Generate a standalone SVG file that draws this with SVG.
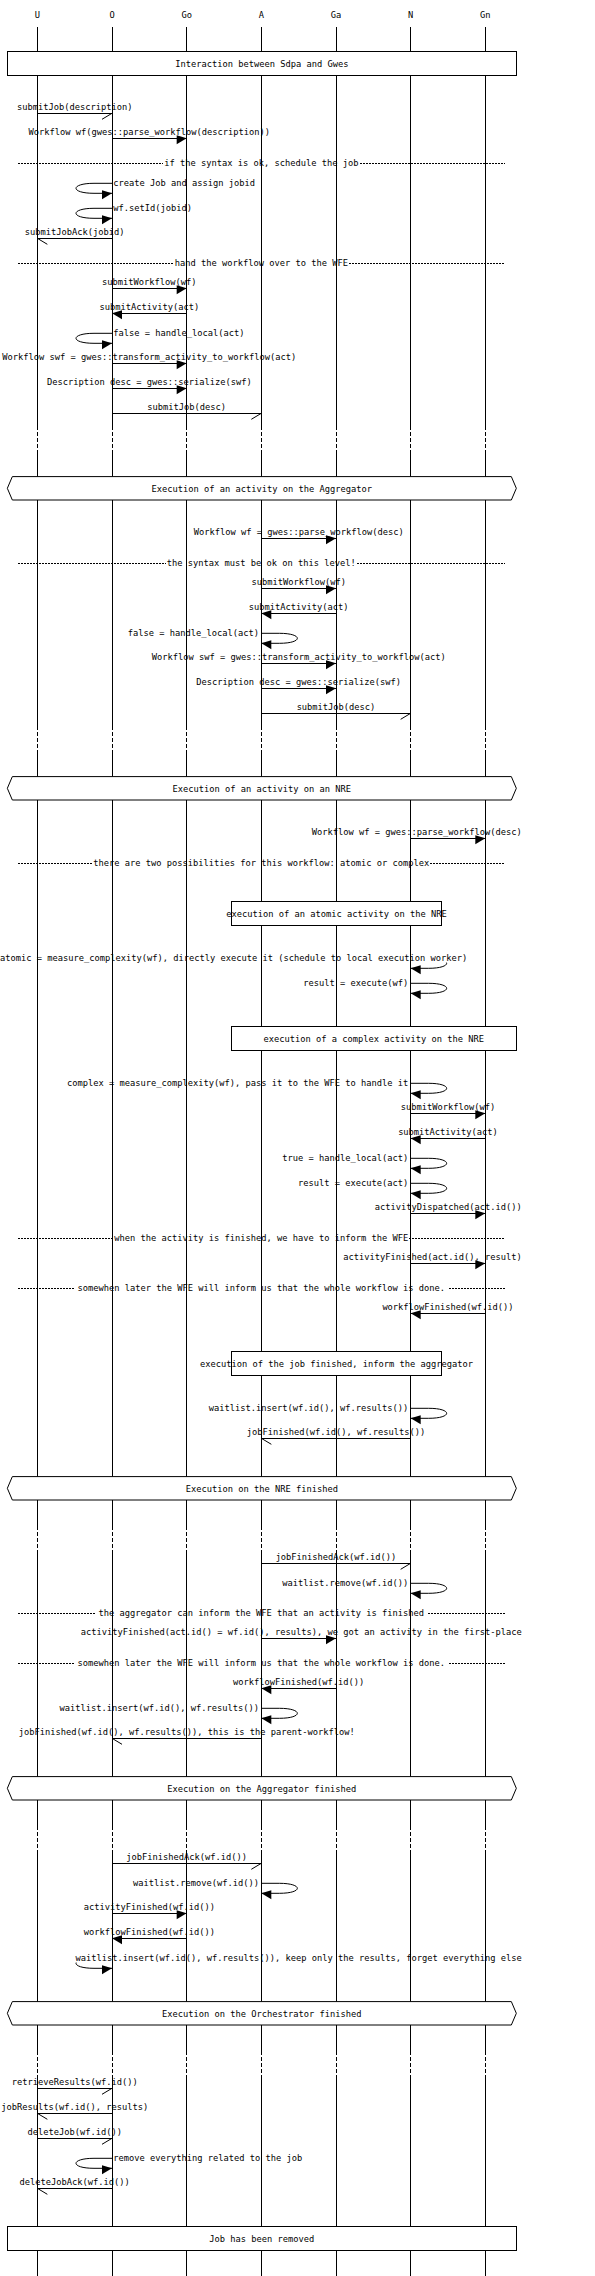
<svg xmlns="http://www.w3.org/2000/svg" width="595" height="2276" viewBox="0 0 595 2276">
<style>
.t{font-family:"DejaVu Sans Mono","Liberation Mono",monospace;font-size:8.72px;fill:#000}
.m{text-anchor:middle}
.e{text-anchor:end}
.ln{stroke:#000;stroke-width:1;fill:none}
line.ln{shape-rendering:crispEdges}
.ll{stroke:#000;stroke-width:1;fill:none;shape-rendering:crispEdges}
.lld{stroke:#000;stroke-width:1;fill:none;stroke-dasharray:4,2;shape-rendering:crispEdges}
.sep{stroke:#000;stroke-width:1;fill:none;stroke-dasharray:2,1;shape-rendering:crispEdges}
.box{fill:#fff;stroke:#000;stroke-width:1}
rect.box{shape-rendering:crispEdges}
.bg{fill:#fff}
.f{marker-end:url(#fr)}
.fl{marker-end:url(#fl)}
.a{marker-end:url(#ar)}
.al{marker-end:url(#al)}
</style>
<defs>
<marker id="fr" markerUnits="userSpaceOnUse" markerWidth="12" markerHeight="12" refX="0" refY="0" orient="0" style="overflow:visible"><path d="M0,0 L-10,-3 L-10,6 Z" fill="#000"/></marker>
<marker id="fl" markerUnits="userSpaceOnUse" markerWidth="12" markerHeight="12" refX="0" refY="0" orient="0" style="overflow:visible"><path d="M0,0 L10,-3 L10,6 Z" fill="#000"/></marker>
<marker id="ar" markerUnits="userSpaceOnUse" markerWidth="12" markerHeight="12" refX="0" refY="0" orient="0" style="overflow:visible"><path d="M0,0 L-10,6" stroke="#000" stroke-width="1" fill="none"/></marker>
<marker id="al" markerUnits="userSpaceOnUse" markerWidth="12" markerHeight="12" refX="0" refY="0" orient="0" style="overflow:visible"><path d="M0,0 L10,6" stroke="#000" stroke-width="1" fill="none"/></marker>
</defs>
<rect x="0" y="0" width="595" height="2276" fill="#fff"/>

<g id="separators">
<path class="sep" d="M18.33,163.3 H163.2 M359.5,163.3 H504.67"/>
<text class="t m" x="261.33" y="166.3">if the syntax is ok, schedule the job</text>
<path class="sep" d="M18.33,263.3 H173.7 M349,263.3 H504.67"/>
<text class="t m" x="261.33" y="266.3">hand the workflow over to the WFE</text>
<path class="sep" d="M18.33,563.3 H165.8 M356.8,563.3 H504.67"/>
<text class="t m" x="261.33" y="566.3">the syntax must be ok on this level!</text>
<path class="sep" d="M18.33,863.3 H92.3 M430.3,863.3 H504.67"/>
<text class="t m" x="261.33" y="866.3">there are two possibilities for this workflow: atomic or complex</text>
<path class="sep" d="M18.33,1238.3 H113.3 M409.3,1238.3 H504.67"/>
<text class="t m" x="261.33" y="1241.3">when the activity is finished, we have to inform the WFE</text>
<path class="sep" d="M18.33,1288.3 H74 M448.7,1288.3 H504.67"/>
<text class="t m" x="261.33" y="1291.3">somewhen later the WFE will inform us that the whole workflow is done.</text>
<path class="sep" d="M18.33,1613.3 H95 M427.7,1613.3 H504.67"/>
<text class="t m" x="261.33" y="1616.3">the aggregator can inform the WFE that an activity is finished</text>
<path class="sep" d="M18.33,1663.3 H74 M448.7,1663.3 H504.67"/>
<text class="t m" x="261.33" y="1666.3">somewhen later the WFE will inform us that the whole workflow is done.</text>
</g>

<g id="connectors">
<line class="ln a" x1="37.33" y1="113.3" x2="112" y2="113.3"/>
<text class="t m" x="74.67" y="109.8">submitJob(description)</text>
<line class="ln f" x1="112" y1="138.3" x2="186.67" y2="138.3"/>
<text class="t m" x="149.33" y="134.8">Workflow wf(gwes::parse_workflow(description))</text>
<path class="ln f" d="M112,183.3 H94 C70,183.3 70,193.3 94,193.3 H112"/>
<text class="t" x="113.3" y="185.6">create Job and assign jobid</text>
<path class="ln f" d="M112,208.3 H94 C70,208.3 70,218.3 94,218.3 H112"/>
<text class="t" x="113.3" y="210.6">wf.setId(jobid)</text>
<line class="ln al" x1="112" y1="238.3" x2="37.33" y2="238.3"/>
<text class="t m" x="74.67" y="234.8">submitJobAck(jobid)</text>
<line class="ln f" x1="112" y1="288.3" x2="186.67" y2="288.3"/>
<text class="t m" x="149.33" y="284.8">submitWorkflow(wf)</text>
<line class="ln fl" x1="186.67" y1="313.3" x2="112" y2="313.3"/>
<text class="t m" x="149.33" y="309.8">submitActivity(act)</text>
<path class="ln f" d="M112,333.3 H94 C70,333.3 70,343.3 94,343.3 H112"/>
<text class="t" x="113.3" y="335.6">false = handle_local(act)</text>
<line class="ln f" x1="112" y1="363.3" x2="186.67" y2="363.3"/>
<text class="t m" x="149.33" y="359.8">Workflow swf = gwes::transform_activity_to_workflow(act)</text>
<line class="ln f" x1="112" y1="388.3" x2="186.67" y2="388.3"/>
<text class="t m" x="149.33" y="384.8">Description desc = gwes::serialize(swf)</text>
<line class="ln a" x1="112" y1="413.3" x2="261.33" y2="413.3"/>
<text class="t m" x="186.67" y="409.8">submitJob(desc)</text>

<line class="ln f" x1="261.33" y1="538.3" x2="336" y2="538.3"/>
<text class="t m" x="298.67" y="534.8">Workflow wf = gwes::parse_workflow(desc)</text>
<line class="ln f" x1="261.33" y1="588.3" x2="336" y2="588.3"/>
<text class="t m" x="298.67" y="584.8">submitWorkflow(wf)</text>
<line class="ln fl" x1="336" y1="613.3" x2="261.33" y2="613.3"/>
<text class="t m" x="298.67" y="609.8">submitActivity(act)</text>
<path class="ln fl" d="M261.33,633.3 H279.33 C303.33,633.3 303.33,643.3 279.33,643.3 H261.33"/>
<text class="t e" x="259" y="635.6">false = handle_local(act)</text>
<line class="ln f" x1="261.33" y1="663.3" x2="336" y2="663.3"/>
<text class="t m" x="298.67" y="659.8">Workflow swf = gwes::transform_activity_to_workflow(act)</text>
<line class="ln f" x1="261.33" y1="688.3" x2="336" y2="688.3"/>
<text class="t m" x="298.67" y="684.8">Description desc = gwes::serialize(swf)</text>
<line class="ln a" x1="261.33" y1="713.3" x2="410.67" y2="713.3"/>
<text class="t m" x="336" y="709.8">submitJob(desc)</text>

<line class="ln f" x1="410.67" y1="838.3" x2="485.33" y2="838.3"/>
<text class="t e" x="521.7" y="834.8">Workflow wf = gwes::parse_workflow(desc)</text>
<path class="ln fl" d="M410.67,958.3 H428.67 C452.67,958.3 452.67,968.3 428.67,968.3 H410.67"/>
<rect class="bg" x="0" y="953" width="468" height="9.5"/>
<text class="t" x="0" y="960.6">atomic = measure_complexity(wf), directly execute it (schedule to local execution worker)</text>
<path class="ln fl" d="M410.67,983.3 H428.67 C452.67,983.3 452.67,993.3 428.67,993.3 H410.67"/>
<text class="t e" x="408.3" y="985.6">result = execute(wf)</text>
<path class="ln fl" d="M410.67,1083.3 H428.67 C452.67,1083.3 452.67,1093.3 428.67,1093.3 H410.67"/>
<text class="t e" x="408.3" y="1085.6">complex = measure_complexity(wf), pass it to the WFE to handle it</text>
<line class="ln f" x1="410.67" y1="1113.3" x2="485.33" y2="1113.3"/>
<text class="t m" x="448" y="1109.8">submitWorkflow(wf)</text>
<line class="ln fl" x1="485.33" y1="1138.3" x2="410.67" y2="1138.3"/>
<text class="t m" x="448" y="1134.8">submitActivity(act)</text>
<path class="ln fl" d="M410.67,1158.3 H428.67 C452.67,1158.3 452.67,1168.3 428.67,1168.3 H410.67"/>
<text class="t e" x="408.3" y="1160.6">true = handle_local(act)</text>
<path class="ln fl" d="M410.67,1183.3 H428.67 C452.67,1183.3 452.67,1193.3 428.67,1193.3 H410.67"/>
<text class="t e" x="408.3" y="1185.6">result = execute(act)</text>
<line class="ln f" x1="410.67" y1="1213.3" x2="485.33" y2="1213.3"/>
<text class="t e" x="521.7" y="1209.8">activityDispatched(act.id())</text>
<line class="ln f" x1="410.67" y1="1263.3" x2="485.33" y2="1263.3"/>
<text class="t e" x="521.7" y="1259.8">activityFinished(act.id(), result)</text>
<line class="ln fl" x1="485.33" y1="1313.3" x2="410.67" y2="1313.3"/>
<text class="t m" x="448" y="1309.8">workflowFinished(wf.id())</text>
<path class="ln fl" d="M410.67,1408.3 H428.67 C452.67,1408.3 452.67,1418.3 428.67,1418.3 H410.67"/>
<text class="t e" x="408.3" y="1410.6">waitlist.insert(wf.id(), wf.results())</text>
<line class="ln al" x1="410.67" y1="1438.3" x2="261.33" y2="1438.3"/>
<text class="t m" x="336" y="1434.8">jobFinished(wf.id(), wf.results())</text>

<line class="ln a" x1="261.33" y1="1563.3" x2="410.67" y2="1563.3"/>
<text class="t m" x="336" y="1559.8">jobFinishedAck(wf.id())</text>
<path class="ln fl" d="M410.67,1583.3 H428.67 C452.67,1583.3 452.67,1593.3 428.67,1593.3 H410.67"/>
<text class="t e" x="408.3" y="1585.6">waitlist.remove(wf.id())</text>
<line class="ln f" x1="261.33" y1="1638.3" x2="336" y2="1638.3"/>
<text class="t e" x="521.7" y="1634.8">activityFinished(act.id() = wf.id(), results), we got an activity in the first-place</text>
<line class="ln fl" x1="336" y1="1688.3" x2="261.33" y2="1688.3"/>
<text class="t m" x="298.67" y="1684.8">workflowFinished(wf.id())</text>
<path class="ln fl" d="M261.33,1708.3 H279.33 C303.33,1708.3 303.33,1718.3 279.33,1718.3 H261.33"/>
<text class="t e" x="259" y="1710.6">waitlist.insert(wf.id(), wf.results())</text>
<line class="ln al" x1="261.33" y1="1738.3" x2="112" y2="1738.3"/>
<text class="t m" x="186.67" y="1734.8">jobFinished(wf.id(), wf.results()), this is the parent-workflow!</text>

<line class="ln a" x1="112" y1="1863.3" x2="261.33" y2="1863.3"/>
<text class="t m" x="186.67" y="1859.8">jobFinishedAck(wf.id())</text>
<path class="ln fl" d="M261.33,1883.3 H279.33 C303.33,1883.3 303.33,1893.3 279.33,1893.3 H261.33"/>
<text class="t e" x="259" y="1885.6">waitlist.remove(wf.id())</text>
<line class="ln f" x1="112" y1="1913.3" x2="186.67" y2="1913.3"/>
<text class="t m" x="149.33" y="1909.8">activityFinished(wf.id())</text>
<line class="ln fl" x1="186.67" y1="1938.3" x2="112" y2="1938.3"/>
<text class="t m" x="149.33" y="1934.8">workflowFinished(wf.id())</text>
<path class="ln f" d="M112,1958.3 H94 C70,1958.3 70,1968.3 94,1968.3 H112"/>
<rect class="bg" x="75" y="1953" width="447" height="9.5"/>
<text class="t e" x="521.7" y="1960.6">waitlist.insert(wf.id(), wf.results()), keep only the results, forget everything else</text>

<line class="ln a" x1="37.33" y1="2088.3" x2="112" y2="2088.3"/>
<text class="t m" x="74.67" y="2084.8">retrieveResults(wf.id())</text>
<line class="ln al" x1="112" y1="2113.3" x2="37.33" y2="2113.3"/>
<text class="t m" x="74.67" y="2109.8">jobResults(wf.id(), results)</text>
<line class="ln a" x1="37.33" y1="2138.3" x2="112" y2="2138.3"/>
<text class="t m" x="74.67" y="2134.8">deleteJob(wf.id())</text>
<path class="ln f" d="M112,2158.3 H94 C70,2158.3 70,2168.3 94,2168.3 H112"/>
<text class="t" x="113.3" y="2160.6">remove everything related to the job</text>
<line class="ln al" x1="112" y1="2188.3" x2="37.33" y2="2188.3"/>
<text class="t m" x="74.67" y="2184.8">deleteJobAck(wf.id())</text>
</g>

<g id="U">
<text class="t m" x="37.33" y="18.3">U</text>
<path class="ll" d="M37.33,26.7 V425.8 M37.33,450.8 V725.8 M37.33,750.8 V1525.8 M37.33,1550.8 V1825.8 M37.33,1850.8 V2050.8 M37.33,2075.8 V2276"/>
<path class="lld" d="M37.33,425.8 V450.8 M37.33,725.8 V750.8 M37.33,1525.8 V1550.8 M37.33,1825.8 V1850.8 M37.33,2050.8 V2075.8"/>
</g>
<g id="O">
<text class="t m" x="112" y="18.3">O</text>
<path class="ll" d="M112,26.7 V425.8 M112,450.8 V725.8 M112,750.8 V1525.8 M112,1550.8 V1825.8 M112,1850.8 V2050.8 M112,2075.8 V2276"/>
<path class="lld" d="M112,425.8 V450.8 M112,725.8 V750.8 M112,1525.8 V1550.8 M112,1825.8 V1850.8 M112,2050.8 V2075.8"/>
</g>
<g id="Go">
<text class="t m" x="186.67" y="18.3">Go</text>
<path class="ll" d="M186.67,26.7 V425.8 M186.67,450.8 V725.8 M186.67,750.8 V1525.8 M186.67,1550.8 V1825.8 M186.67,1850.8 V2050.8 M186.67,2075.8 V2276"/>
<path class="lld" d="M186.67,425.8 V450.8 M186.67,725.8 V750.8 M186.67,1525.8 V1550.8 M186.67,1825.8 V1850.8 M186.67,2050.8 V2075.8"/>
</g>
<g id="A">
<text class="t m" x="261.33" y="18.3">A</text>
<path class="ll" d="M261.33,26.7 V425.8 M261.33,450.8 V725.8 M261.33,750.8 V1525.8 M261.33,1550.8 V1825.8 M261.33,1850.8 V2050.8 M261.33,2075.8 V2276"/>
<path class="lld" d="M261.33,425.8 V450.8 M261.33,725.8 V750.8 M261.33,1525.8 V1550.8 M261.33,1825.8 V1850.8 M261.33,2050.8 V2075.8"/>
</g>
<g id="Ga">
<text class="t m" x="336" y="18.3">Ga</text>
<path class="ll" d="M336,26.7 V425.8 M336,450.8 V725.8 M336,750.8 V1525.8 M336,1550.8 V1825.8 M336,1850.8 V2050.8 M336,2075.8 V2276"/>
<path class="lld" d="M336,425.8 V450.8 M336,725.8 V750.8 M336,1525.8 V1550.8 M336,1825.8 V1850.8 M336,2050.8 V2075.8"/>
</g>
<g id="N">
<text class="t m" x="410.67" y="18.3">N</text>
<path class="ll" d="M410.67,26.7 V425.8 M410.67,450.8 V725.8 M410.67,750.8 V1525.8 M410.67,1550.8 V1825.8 M410.67,1850.8 V2050.8 M410.67,2075.8 V2276"/>
<path class="lld" d="M410.67,425.8 V450.8 M410.67,725.8 V750.8 M410.67,1525.8 V1550.8 M410.67,1825.8 V1850.8 M410.67,2050.8 V2075.8"/>
</g>
<g id="Gn">
<text class="t m" x="485.33" y="18.3">Gn</text>
<path class="ll" d="M485.33,26.7 V425.8 M485.33,450.8 V725.8 M485.33,750.8 V1525.8 M485.33,1550.8 V1825.8 M485.33,1850.8 V2050.8 M485.33,2075.8 V2276"/>
<path class="lld" d="M485.33,425.8 V450.8 M485.33,725.8 V750.8 M485.33,1525.8 V1550.8 M485.33,1825.8 V1850.8 M485.33,2050.8 V2075.8"/>
</g>

<g id="box-interaction">
<rect class="box" x="7.33" y="51.6" width="509" height="23.4"/>
<text class="t m" x="261.83" y="66.6">Interaction between Sdpa and Gwes</text>
</g>
<g id="box-exec-aggregator">
<polygon class="box" points="7.33,488.3 12.33,476.6 511.33,476.6 516.33,488.3 511.33,500 12.33,500"/>
<text class="t m" x="261.83" y="491.6">Execution of an activity on the Aggregator</text>
</g>
<g id="box-exec-nre">
<polygon class="box" points="7.33,788.3 12.33,776.6 511.33,776.6 516.33,788.3 511.33,800 12.33,800"/>
<text class="t m" x="261.83" y="791.6">Execution of an activity on an NRE</text>
</g>
<g id="box-atomic">
<rect class="box" x="231.3" y="901.6" width="210.4" height="23.4"/>
<text class="t m" x="336.5" y="916.6">execution of an atomic activity on the NRE</text>
</g>
<g id="box-complex">
<rect class="box" x="231.3" y="1026.6" width="285" height="23.4"/>
<text class="t m" x="373.8" y="1041.6">execution of a complex activity on the NRE</text>
</g>
<g id="box-job-finished">
<rect class="box" x="231.3" y="1351.6" width="210.4" height="23.4"/>
<text class="t m" x="336.5" y="1366.6">execution of the job finished, inform the aggregator</text>
</g>
<g id="box-nre-finished">
<polygon class="box" points="7.33,1488.3 12.33,1476.6 511.33,1476.6 516.33,1488.3 511.33,1500 12.33,1500"/>
<text class="t m" x="261.83" y="1491.6">Execution on the NRE finished</text>
</g>
<g id="box-aggregator-finished">
<polygon class="box" points="7.33,1788.3 12.33,1776.6 511.33,1776.6 516.33,1788.3 511.33,1800 12.33,1800"/>
<text class="t m" x="261.83" y="1791.6">Execution on the Aggregator finished</text>
</g>
<g id="box-orchestrator-finished">
<polygon class="box" points="7.33,2013.3 12.33,2001.6 511.33,2001.6 516.33,2013.3 511.33,2025 12.33,2025"/>
<text class="t m" x="261.83" y="2016.6">Execution on the Orchestrator finished</text>
</g>
<g id="box-removed">
<rect class="box" x="7.33" y="2226.6" width="509" height="23.4"/>
<text class="t m" x="261.83" y="2241.6">Job has been removed</text>
</g>
</svg>
